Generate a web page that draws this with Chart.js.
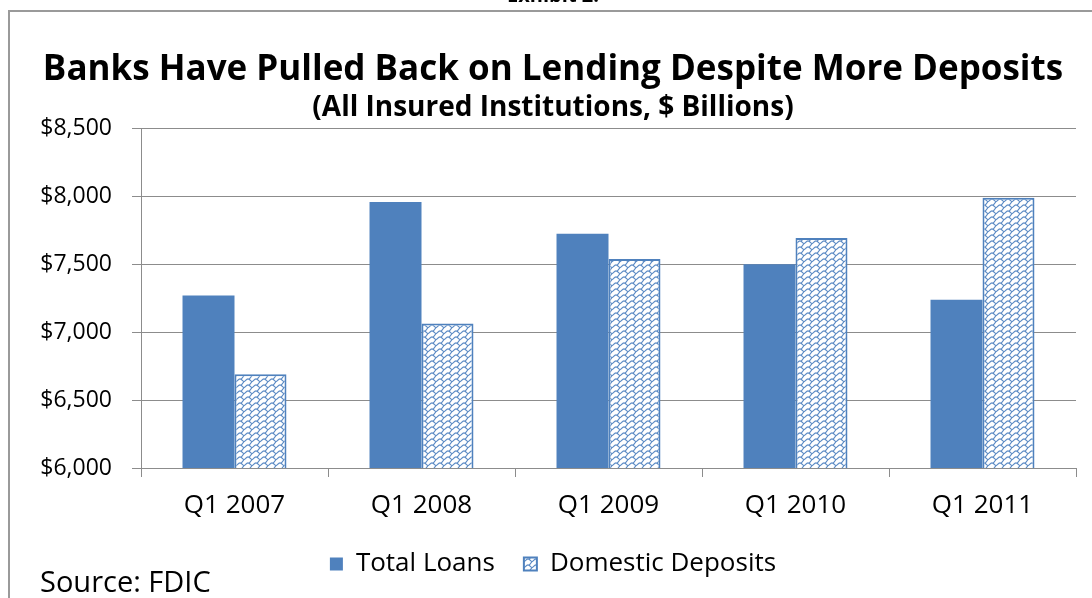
<!DOCTYPE html>
<html>
<head>
<meta charset="utf-8">
<script src="https://cdn.jsdelivr.net/npm/chart.js@4.4.1/dist/chart.umd.min.js"></script>
<style>
  html, body { margin: 0; padding: 0; background: #ffffff; }
  #wrap { width: 1092px; height: 598px; }
</style>
</head>
<body>
<div id="wrap"><canvas id="chart" width="1092" height="598"></canvas></div>
<script>
// data ($ billions)
const quarters = ['Q1 2007', 'Q1 2008', 'Q1 2009', 'Q1 2010', 'Q1 2011'];
const totalLoans = [7270, 7960, 7725, 7500, 7240];
const domesticDeposits = [6690, 7065, 7540, 7695, 7990];
const seriesNames = ['Total Loans', 'Domestic Deposits'];
const yMin = 6000;
const yMax = 8500;
const yStep = 500;

const FONT = "'Open Sans', sans-serif";
const BLUE = '#4F81BD';
const GRID = '#8c8c8c';

// wavy "weave" fill used by Excel for the deposits series
function makeWavePattern() {
  const tile = document.createElement('canvas');
  tile.width = 8;
  tile.height = 6;
  const t = tile.getContext('2d');
  t.fillStyle = '#ffffff';
  t.fillRect(0, 0, 8, 6);
  t.strokeStyle = '#5b8ac4';
  t.lineWidth = 1.1;
  t.lineCap = 'round';
  t.beginPath();
  t.moveTo(-0.5, 0.8);
  t.bezierCurveTo(2, 0.8, 2.5, 3.6, 4, 3.6);
  t.bezierCurveTo(5.5, 3.6, 6, 0.8, 8.5, 0.8);
  t.moveTo(4, 3.6);
  t.lineTo(1.5, 6.8);
  t.moveTo(4, -2.4);
  t.lineTo(1.5, 0.8);
  t.stroke();
  return t.createPattern(tile, 'repeat');
}

// frame, cut-off exhibit caption and source line
const decorations = {
  id: 'decorations',
  afterDraw(chart) {
    const ctx = chart.ctx;
    ctx.save();
    ctx.strokeStyle = '#9a9a9a';
    ctx.lineWidth = 2;
    ctx.beginPath();
    ctx.moveTo(9, 598);
    ctx.lineTo(9, 11);
    ctx.lineTo(1092, 11);
    ctx.stroke();

    ctx.fillStyle = '#000000';
    ctx.font = 'bold 20px ' + FONT;
    ctx.textAlign = 'center';
    ctx.textBaseline = 'alphabetic';
    ctx.fillText('Exhibit 2:', 553, 2);

    ctx.font = '29px ' + FONT;
    ctx.textAlign = 'left';
    ctx.textBaseline = 'middle';
    ctx.fillText('Source: FDIC', 40, 584);
    ctx.restore();
  }
};

const ctx = document.getElementById('chart').getContext('2d');
const wave = makeWavePattern();

new Chart(ctx, {
  type: 'bar',
  data: {
    labels: quarters,
    datasets: [
      {
        label: seriesNames[0],
        data: totalLoans,
        backgroundColor: BLUE,
        borderColor: BLUE,
        borderWidth: 0
      },
      {
        label: seriesNames[1],
        data: domesticDeposits,
        backgroundColor: wave,
        borderColor: BLUE,
        borderWidth: 2
      }
    ]
  },
  options: {
    responsive: false,
    animation: false,
    devicePixelRatio: 1,
    categoryPercentage: 0.556,
    barPercentage: 1.0,
    layout: { padding: { left: 30, right: 16, top: 0, bottom: 11 } },
    scales: {
      x: {
        grid: { drawOnChartArea: false, drawTicks: true, tickLength: 9, color: GRID },
        border: { display: true, color: GRID, width: 1 },
        ticks: { color: '#000', font: { family: FONT, size: 26 }, padding: 13 },
        afterFit: (scale) => { scale.height = 54; }
      },
      y: {
        min: yMin,
        max: yMax,
        grid: { color: GRID, lineWidth: 1, tickLength: 9 },
        border: { display: true, color: GRID, width: 1 },
        ticks: {
          stepSize: yStep,
          color: '#000',
          padding: 20,
          font: { family: FONT, size: 23 },
          callback: (val) => '$' + Number(val).toLocaleString('en-US')
        },
        afterFit: (scale) => { scale.width = 111; }
      }
    },
    plugins: {
      title: {
        display: true,
        text: 'Banks Have Pulled Back on Lending Despite More Deposits',
        color: '#000',
        font: { family: FONT, size: 35, weight: 'bold', lineHeight: 1.2 },
        padding: { top: 49, bottom: 0 }
      },
      subtitle: {
        display: true,
        text: '(All Insured Institutions, $ Billions)',
        color: '#000',
        font: { family: FONT, size: 28, weight: 'bold', lineHeight: 1.2 },
        padding: { top: 0, bottom: 4 }
      },
      legend: {
        position: 'bottom',
        labels: {
          color: '#000',
          font: { family: FONT, size: 26 },
          boxWidth: 13,
          boxHeight: 13,
          padding: 29
        }
      },
      tooltip: { enabled: false }
    }
  },
  plugins: [decorations]
});
</script>
</body>
</html>
